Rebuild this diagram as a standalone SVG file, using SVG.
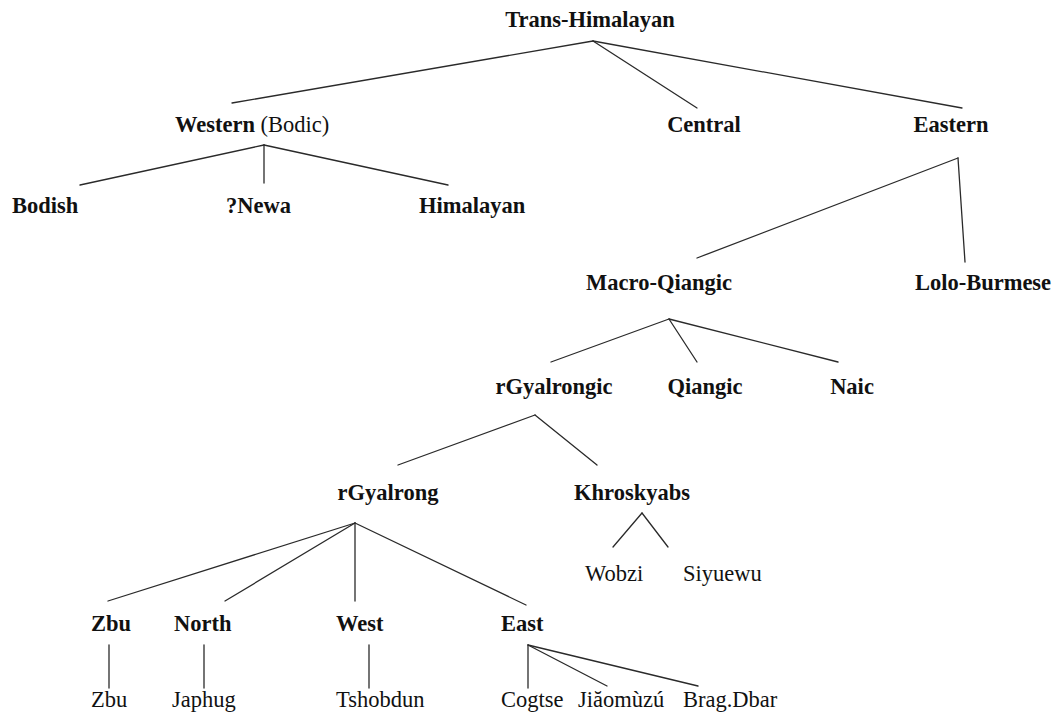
<svg xmlns="http://www.w3.org/2000/svg" width="1057" height="719" viewBox="0 0 1057 719">
  <style>
    text { font-family: "Liberation Serif", "Times New Roman", serif; font-size: 22.5px; fill: #111; }
    .b { font-weight: bold; }
    .r { font-weight: normal; }
    .edge { stroke: #2a2a2a; stroke-width: 1.3; fill: none; stroke-linecap: round; }
  </style>
  <rect width="1057" height="719" fill="#ffffff"/>

  <!-- tree branches -->
  <g id="connectors">
    <line class="edge" x1="593" y1="41" x2="232" y2="103"/>
    <line class="edge" x1="593" y1="41" x2="697" y2="108"/>
    <line class="edge" x1="593" y1="41" x2="962" y2="108"/>

    <line class="edge" x1="264" y1="145" x2="80" y2="185"/>
    <line class="edge" x1="264" y1="145" x2="264" y2="183"/>
    <line class="edge" x1="264" y1="145" x2="448" y2="185"/>

    <line class="edge" x1="958" y1="158" x2="697" y2="258"/>
    <line class="edge" x1="958" y1="158" x2="965" y2="262"/>

    <line class="edge" x1="669" y1="319" x2="551" y2="362"/>
    <line class="edge" x1="669" y1="319" x2="697" y2="362"/>
    <line class="edge" x1="669" y1="319" x2="838" y2="362"/>

    <line class="edge" x1="535" y1="415" x2="398" y2="465"/>
    <line class="edge" x1="535" y1="415" x2="597" y2="465"/>

    <line class="edge" x1="642" y1="513" x2="613" y2="547"/>
    <line class="edge" x1="642" y1="513" x2="668" y2="547"/>

    <line class="edge" x1="355" y1="523" x2="108" y2="601"/>
    <line class="edge" x1="355" y1="523" x2="225" y2="601"/>
    <line class="edge" x1="355" y1="523" x2="355" y2="601"/>
    <line class="edge" x1="355" y1="523" x2="526" y2="605"/>

    <line class="edge" x1="109" y1="645" x2="109" y2="688"/>
    <line class="edge" x1="204" y1="645" x2="204" y2="688"/>
    <line class="edge" x1="369" y1="645" x2="369" y2="688"/>

    <line class="edge" x1="528" y1="645" x2="528" y2="688"/>
    <line class="edge" x1="528" y1="645" x2="607" y2="686"/>
    <line class="edge" x1="528" y1="645" x2="698" y2="686"/>
  </g>

  <g id="n-trans-himalayan"><text class="b" x="590" y="27" text-anchor="middle">Trans-Himalayan</text></g>

  <g id="n-western"><text x="175" y="132"><tspan class="b">Western</tspan> <tspan class="r">(Bodic)</tspan></text></g>
  <g id="n-central"><text class="b" x="704" y="132" text-anchor="middle">Central</text></g>
  <g id="n-eastern"><text class="b" x="951" y="132" text-anchor="middle">Eastern</text></g>

  <g id="n-bodish"><text class="b" x="12" y="213">Bodish</text></g>
  <g id="n-newa"><text class="b" x="226" y="213">?Newa</text></g>
  <g id="n-himalayan"><text class="b" x="419" y="213">Himalayan</text></g>

  <g id="n-macro-qiangic"><text class="b" x="659" y="290" text-anchor="middle">Macro-Qiangic</text></g>
  <g id="n-lolo-burmese"><text class="b" x="983" y="290" text-anchor="middle">Lolo-Burmese</text></g>

  <g id="n-rgyalrongic"><text class="b" x="554" y="394" text-anchor="middle">rGyalrongic</text></g>
  <g id="n-qiangic"><text class="b" x="705" y="394" text-anchor="middle">Qiangic</text></g>
  <g id="n-naic"><text class="b" x="852" y="394" text-anchor="middle">Naic</text></g>

  <g id="n-rgyalrong"><text class="b" x="388" y="500" text-anchor="middle">rGyalrong</text></g>
  <g id="n-khroskyabs"><text class="b" x="632" y="500" text-anchor="middle">Khroskyabs</text></g>

  <g id="n-wobzi"><text class="r" x="585" y="581">Wobzi</text></g>
  <g id="n-siyuewu"><text class="r" x="683" y="581">Siyuewu</text></g>

  <g id="n-zbu-group"><text class="b" x="91" y="631">Zbu</text></g>
  <g id="n-north"><text class="b" x="174" y="631">North</text></g>
  <g id="n-west"><text class="b" x="336" y="631">West</text></g>
  <g id="n-east"><text class="b" x="501" y="631">East</text></g>

  <g id="n-zbu"><text class="r" x="91" y="707">Zbu</text></g>
  <g id="n-japhug"><text class="r" x="172" y="707">Japhug</text></g>
  <g id="n-tshobdun"><text class="r" x="336" y="707">Tshobdun</text></g>
  <g id="n-cogtse"><text class="r" x="501" y="707">Cogtse</text></g>
  <g id="n-jiaomuzu"><text class="r" x="578" y="707">Jiăomùzú</text></g>
  <g id="n-brag-dbar"><text class="r" x="683" y="707">Brag.Dbar</text></g>
</svg>
